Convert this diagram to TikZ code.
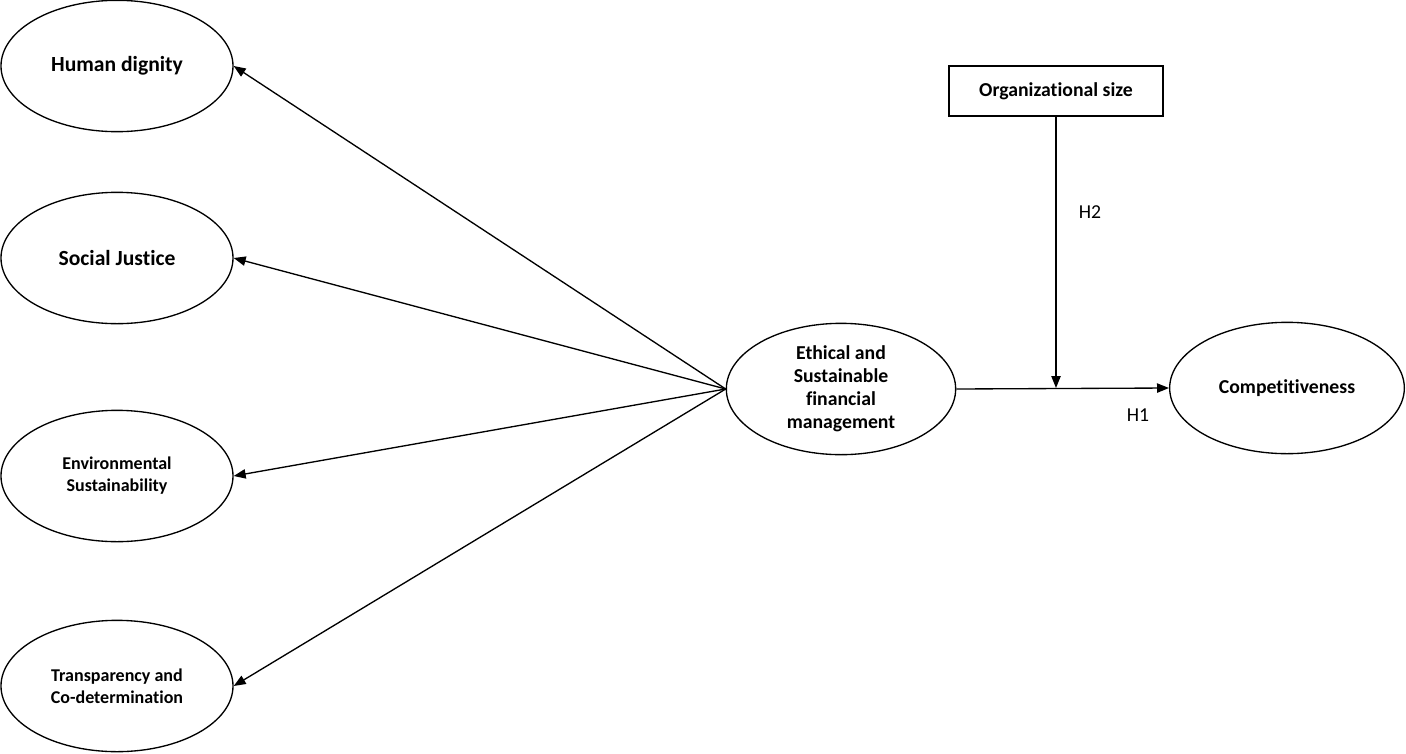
\documentclass[tikz,border=0pt]{standalone}
\usepackage{fontspec}
\setmainfont{Carlito}[RawFeature=-liga]
\usetikzlibrary{shapes.geometric,arrows.meta}

\tikzset{
  construct/.style={draw, ellipse, line width=1pt, inner sep=0pt,
    minimum width=174pt, minimum height=98.5pt, align=center,
    font=\bfseries\fontsize{13.5}{16.5}\selectfont},
  bigtext/.style={font=\bfseries\fontsize{16.2}{19}\selectfont},
  midtext/.style={font=\bfseries\fontsize{14.8}{17.3}\selectfont},
  modbox/.style={draw, rectangle, line width=1.4pt, inner sep=0pt,
    minimum width=161pt, minimum height=38pt,
    font=\bfseries\fontsize{14.8}{17.3}\selectfont},
  path/.style={line width=1pt, -{Triangle[length=9pt,width=7pt]}},
  hyp/.style={font=\fontsize{14.8}{17.3}\selectfont}
}

\begin{document}
\begin{tikzpicture}[x=0.75pt, y=-0.75pt]

\useasboundingbox (0,0) rectangle (1406,753);

% Dimensions (left column)
\node[construct, bigtext] (human) at (117,66) {Human dignity};
\node[construct, bigtext] (social) at (117,258) {Social Justice};
\node[construct] (environ) at (117,476) {Environmental\\Sustainability};
\node[construct] (transp) at (117,686) {Transparency and\\Co-determination};

% Central construct
\node[construct, midtext, minimum width=172pt] (ethics) at (841,389)
  {Ethical and\\Sustainable\\financial\\management};

% Outcome
\node[construct, midtext, minimum width=176pt] (compet) at (1287,388) {Competitiveness};

% Moderator
\node[modbox] (orgsize) at (1056,91) {Organizational size};

% Paths to the dimensions
\draw[path] (ethics.west) -- (human.east);
\draw[path] (ethics.west) -- (social.east);
\draw[path] (ethics.west) -- (environ.east);
\draw[path] (ethics.west) -- (transp.east);

% H1 and moderation (H2)
\draw[path] (ethics.east) -- (compet.west);
\coordinate (modpt) at (orgsize.south |- compet.west);
\draw[path] (orgsize.south) -- (modpt);

% Hypothesis labels
\node[hyp] (htwo) at (1090,212) {H2};
\node[hyp] (hone) at (1138,415) {H1};

\end{tikzpicture}
\end{document}
